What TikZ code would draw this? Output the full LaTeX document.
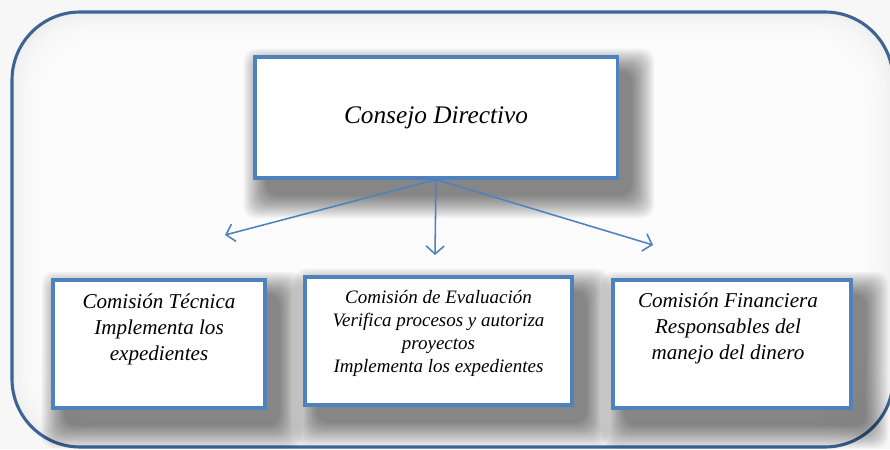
\documentclass[tikz,border=0pt]{standalone}
\usepackage{fontspec}
\setmainfont{Liberation Serif}
\usepackage{xcolor}
\usepackage{tikz}
\usetikzlibrary{arrows.meta}
\usetikzlibrary{backgrounds}
\usetikzlibrary{shapes,positioning}
\definecolor{frameBlue}{HTML}{3E6495}
\definecolor{boxBlue}{HTML}{4F81BD}
\tikzset{>={Straight Barb[length=2mm,width=4.5mm]}}
\tikzset{org-line/.style={->, line width=1.1pt, color=boxBlue}}
\tikzset{org-box/.style={draw=boxBlue, line width=2.2pt, fill=white, inner sep=0}}
\tikzset{comision-box/.style={org-box, minimum height=3.2cm}}
\tikzset{comision-text/.style={align=center, inner sep=0, font=\itshape\fontsize{15}{18.5}\selectfont}}
\tikzset{shadow-layer/.style={fill=black, opacity=0.022, rounded corners=0.3cm}}
\newcommand{\softshadow}[1] {
    \foreach \k in {0,...,23} {
        \fill[shadow-layer] ([shift={(13-\k,-16-\k)}]#1.south west)
            rectangle ([shift={(13+\k,-16+\k)}]#1.north east);
    }
}

\begin{document}
\begin{tikzpicture}[x=0.025cm, y=0.025cm]
    \useasboundingbox (0,0) rectangle (890,449);

    \node[org-box, minimum width=9.05cm, minimum height=3.025cm,
          font=\itshape\fontsize{18}{20}\selectfont] (consejo) at (436,331.5) {Consejo Directivo};

    \node[comision-box, minimum width=5.3cm] (tecnica) at (159,105) {};
    \node[comision-box, minimum width=6.675cm] (evaluacion) at (438.5,108) {};
    \node[comision-box, minimum width=5.95cm] (financiera) at (732,105) {};

    \node[comision-text, below=0.38cm of tecnica.north] (tecnica-text)
        {Comisión Técnica\\Implementa los\\expedientes};
    \node[comision-text, below=0.37cm of evaluacion.north, font=\itshape\fontsize{13.5}{16.3}\selectfont] (evaluacion-text)
        {Comisión de Evaluación\\Verifica procesos y autoriza\\proyectos\\Implementa los expedientes};
    \node[comision-text, below=0.36cm of financiera.north, xshift=-0.1cm] (financiera-text)
        {Comisión Financiera\\Responsables del\\manejo del dinero};

    \coordinate (tecnica-tip) at (225,214);
    \coordinate (evaluacion-tip) at (435,194);
    \coordinate (financiera-tip) at (653,204);

    \draw[org-line] (consejo.south) -- (tecnica-tip);
    \draw[org-line] (consejo.south) -- (evaluacion-tip);
    \draw[org-line] (consejo.south) -- (financiera-tip);

    \begin{pgfonlayer}{background}
        \fill[white!97!black] (0,0) rectangle (890,449);
        % outer frame with a soft inner glow
        \fill[white!94!black, rounded corners=1.7cm] (12,2) rectangle (893,437);
        \foreach \k in {1,...,14}
            \fill[white, opacity=0.25, rounded corners=1.7cm] (12+4*\k,2+4*\k) rectangle (893-4*\k,437-4*\k);
        \draw[frameBlue, line width=2.2pt, rounded corners=1.7cm] (12,2) rectangle (893,437);

        \softshadow{consejo}
        \softshadow{tecnica}
        \softshadow{evaluacion}
        \softshadow{financiera}
    \end{pgfonlayer}
\end{tikzpicture}
\end{document}
